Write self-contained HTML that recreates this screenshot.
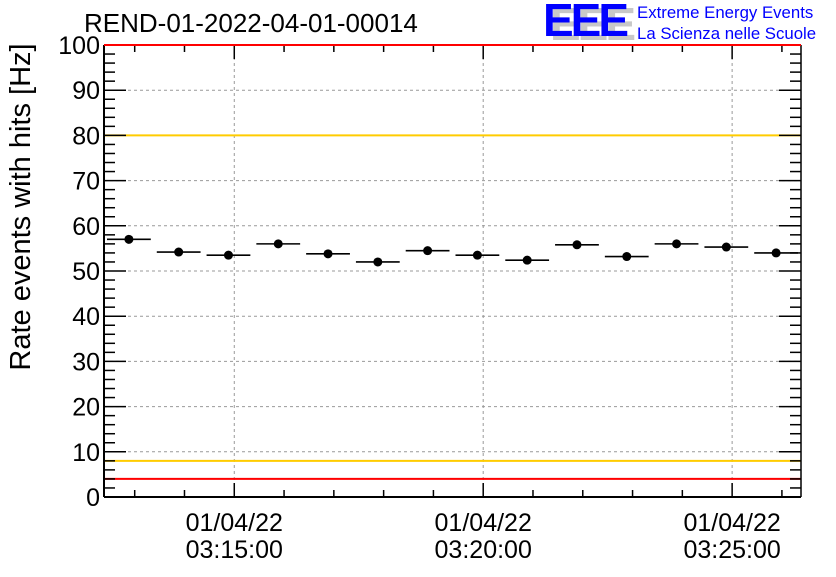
<!DOCTYPE html>
<html><head><meta charset="utf-8"><style>
body{margin:0;background:#fff;}
svg text{font-family:"Liberation Sans",sans-serif;}
</style></head><body>
<svg width="836" height="572" viewBox="0 0 836 572" xmlns="http://www.w3.org/2000/svg">
<rect width="836" height="572" fill="#fff"/>
<text x="84" y="32" font-size="26" fill="#000">REND-01-2022-04-01-00014</text>
<g>
<text x="550" y="40" font-size="46" font-weight="bold" fill="#c8c8c8" letter-spacing="-3">EEE</text>
<text x="543" y="36" font-size="46" font-weight="bold" fill="#0000ff" letter-spacing="-3">EEE</text>
<text x="637" y="18" font-size="16.8" fill="#0000ff">Extreme Energy Events</text>
<text x="637" y="39" font-size="16.8" fill="#0000ff">La Scienza nelle Scuole</text>
</g>
<g id="grid"></g>
<g id="lines"></g>
<g id="axes"></g>
<g id="marks"></g>
<text transform="translate(30,207) rotate(-90)" text-anchor="middle" font-size="29" fill="#000">Rate events with hits [Hz]</text>
</svg>
<script>
const binValues = [57, 54.2, 53.5, 56, 53.8, 52, 54.5, 53.5, 52.4, 55.8, 53.2, 56, 55.3, 54];
const yTicks = [0,10,20,30,40,50,60,70,80,90,100];
const xTickDates = ["01/04/22","01/04/22","01/04/22"];
const xTickTimes = ["03:15:00","03:20:00","03:25:00"];
const xTickSeconds = [157, 457, 757];
const refLines = [{v:100,c:"#ff0000"},{v:80,c:"#ffcc00"},{v:8,c:"#ffcc00"},{v:4,c:"#ff0000"}];

const L=104,R=801,T=45,B=497, totalSec=binValues.length*60;
const ys=v=>B-(v/100)*(B-T);
const xs=s=>L+s/totalSec*(R-L);
const NS="http://www.w3.org/2000/svg";
function mk(p,tag,a){const e=document.createElementNS(NS,tag);for(const k in a)e.setAttribute(k,a[k]);p.appendChild(e);return e;}
const grid=document.getElementById('grid'),lines=document.getElementById('lines'),axes=document.getElementById('axes'),marks=document.getElementById('marks');
yTicks.forEach(v=>{if(v>0&&v<100){const g=mk(grid,'line',{x1:L,x2:R,y1:ys(v),y2:ys(v),stroke:'#999','stroke-dasharray':'3,3','stroke-width':1});

}
const t=mk(axes,'text',{x:L-4,y:ys(v)+9,'text-anchor':'end','font-size':25,fill:'#000'});t.textContent=v;

});
xTickSeconds.forEach((s,i)=>{const g=mk(grid,'line',{x1:xs(s),x2:xs(s),y1:T,y2:B,stroke:'#999','stroke-dasharray':'3,3','stroke-width':1});


const t1=mk(axes,'text',{x:xs(s),y:531,'text-anchor':'middle','font-size':25,fill:'#000'});t1.textContent=xTickDates[i];


const t2=mk(axes,'text',{x:xs(s),y:558,'text-anchor':'middle','font-size':25,fill:'#000'});t2.textContent=xTickTimes[i];

});
refLines.forEach(r=>{const l=mk(lines,'line',{x1:L,x2:R,y1:ys(r.v),y2:ys(r.v),stroke:r.c,'stroke-width':2});

});
mk(axes,'line',{x1:L,x2:L,y1:T,y2:B,stroke:'#000','stroke-width':2});
mk(axes,'line',{x1:L,x2:R,y1:B,y2:B,stroke:'#000','stroke-width':2});
mk(axes,'line',{x1:R,x2:R,y1:T,y2:B,stroke:'#000','stroke-width':1.5});
for(let v=0;v<=100;v+=2){const big=v%10==0,len=big?22:11;
mk(axes,'line',{x1:L,x2:L+len,y1:ys(v),y2:ys(v),stroke:'#000','stroke-width':1.5});
mk(axes,'line',{x1:R,x2:R-len,y1:ys(v),y2:ys(v),stroke:'#000','stroke-width':1.5});}
for(let s=37;s<totalSec;s+=60){const big=((s-157)%300+300)%300==0,len=big?14:7;
mk(axes,'line',{x1:xs(s),x2:xs(s),y1:B,y2:B-len,stroke:'#000','stroke-width':1.5});
mk(axes,'line',{x1:xs(s),x2:xs(s),y1:T,y2:T+len,stroke:'#000','stroke-width':1.5});}
mk(axes,'line',{x1:L,x2:R,y1:T,y2:T,stroke:'#ff0000','stroke-width':2});
binValues.forEach((v,i)=>{const x0=xs(i*60),x1=xs((i+1)*60),cx=(x0+x1)/2;
const b=mk(marks,'line',{x1:x0+3,x2:x1-3,y1:ys(v),y2:ys(v),stroke:'#000','stroke-width':1.6});


const c=mk(marks,'circle',{cx:cx,cy:ys(v),r:4.5,fill:'#000'});

});
</script>
</body></html>
